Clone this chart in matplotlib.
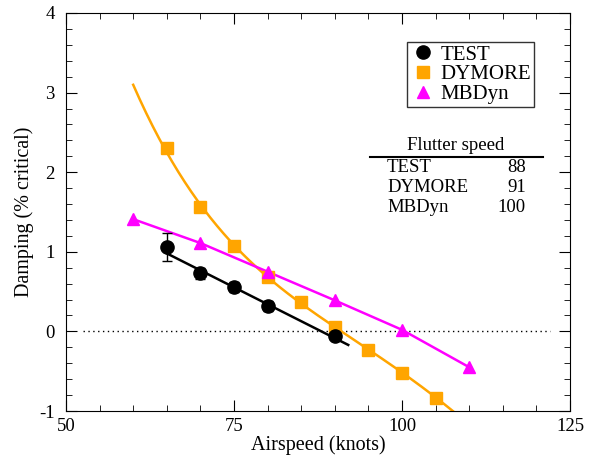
import numpy as np
import matplotlib
matplotlib.use("Agg")
import matplotlib.pyplot as plt
from matplotlib.ticker import MultipleLocator
from matplotlib.lines import Line2D

plt.rcParams['font.family'] = ['Liberation Serif', 'DejaVu Serif']
plt.rcParams['axes.unicode_minus'] = False

# measured data
test_speed = [65, 70, 75, 80, 90]
test_damp = [1.06, 0.73, 0.56, 0.32, -0.06]
test_err = [0.18, 0.07, 0.06, 0.06, 0.04]
test_fit_x = [65, 92]
test_fit_y = [0.98, -0.17]

dymore_speed = [65, 70, 75, 80, 85, 90, 95, 100, 105]
dymore_damp = [2.30, 1.56, 1.07, 0.68, 0.37, 0.06, -0.23, -0.52, -0.84]
dymore_curve_x = [60, 65, 70, 75, 80, 85, 90, 95, 100, 105, 107.7]
dymore_curve_y = [3.08, 2.30, 1.56, 1.07, 0.68, 0.37, 0.06, -0.23, -0.52, -0.84, -1.0]

mbdyn_speed = [60, 70, 80, 90, 100, 110]
mbdyn_damp = [1.41, 1.11, 0.75, 0.39, 0.02, -0.45]

flutter_names = ['TEST', 'DYMORE', 'MBDyn']
flutter_speeds = ['88', '91', '100']

orange = '#FFA500'
magenta = '#FF00FF'

fig = plt.figure(figsize=(5.94, 4.59), dpi=100)
ax = fig.add_axes([66/594, 48/459, 504/594, 398/459])

# smooth curve for dymore
cx = np.array(dymore_curve_x)
cy = np.array(dymore_curve_y)
coef = np.polyfit(cx, cy, 4)
xs = np.linspace(cx[0], cx[-1], 200)
ax.plot(xs, np.polyval(coef, xs), color=orange, lw=1.8, zorder=2)

ax.plot(mbdyn_speed, mbdyn_damp, color=magenta, lw=1.8, zorder=2)
ax.plot(test_fit_x, test_fit_y, color='black', lw=1.8, zorder=2)
ax.plot([52.5, 122], [0, 0], color='black', lw=1, ls=(0, (1, 2.5)), zorder=1)

ax.errorbar(test_speed, test_damp, yerr=test_err, fmt='o', color='black',
            ms=9.5, capsize=3.5, elinewidth=1, capthick=1, zorder=4)
ax.plot(dymore_speed, dymore_damp, 's', color=orange, ms=8, zorder=3)
ax.plot(mbdyn_speed, mbdyn_damp, '^', color=magenta, ms=9, zorder=3)

ax.set_xlim(50, 125)
ax.set_ylim(-1, 4)
ax.xaxis.set_major_locator(MultipleLocator(25))
ax.xaxis.set_minor_locator(MultipleLocator(5))
ax.yaxis.set_major_locator(MultipleLocator(1))
ax.yaxis.set_minor_locator(MultipleLocator(0.2))
ax.tick_params(which='both', direction='in', top=True, right=True, labelsize=13.5)
ax.tick_params(which='major', length=8)
ax.tick_params(which='minor', length=4)
ax.tick_params(axis='x', pad=5)
ax.tick_params(axis='y', pad=8)
ax.set_xlabel('Airspeed (knots)', fontsize=14.5, labelpad=0)
ax.set_ylabel('Damping (% critical)', fontsize=14.5, labelpad=4)

hs = [Line2D([], [], marker='o', color='black', ls='', ms=9.5),
      Line2D([], [], marker='s', color=orange, ls='', ms=8),
      Line2D([], [], marker='^', color=magenta, ls='', ms=9)]
leg = ax.legend(hs, ['TEST', 'DYMORE', 'MBDyn'], loc='upper left',
                bbox_to_anchor=((407-66)/504, (411-42)/398),
                bbox_transform=ax.transAxes, frameon=True, fancybox=False,
                edgecolor='black', fontsize=15, handletextpad=0.25,
                borderpad=0.15, labelspacing=0.0, handlelength=1.2,
                borderaxespad=0)
leg.get_frame().set_linewidth(1)

# flutter speed table
fig.text(456/594, 1 - 145/459, 'Flutter speed', ha='center', va='center', fontsize=13.5)
fig.add_artist(Line2D([370/594, 543/594], [1 - 157/459, 1 - 157/459],
                      color='black', lw=1.5))
for i, (nm, sp) in enumerate(zip(flutter_names, flutter_speeds)):
    y = 1 - (168 + 20*i)/459
    fig.text(387/594, y, nm, ha='left', va='center', fontsize=13.5)
    fig.text(526/594, y, sp, ha='right', va='center', fontsize=13.5)

fig.savefig('out.png', dpi=100)
